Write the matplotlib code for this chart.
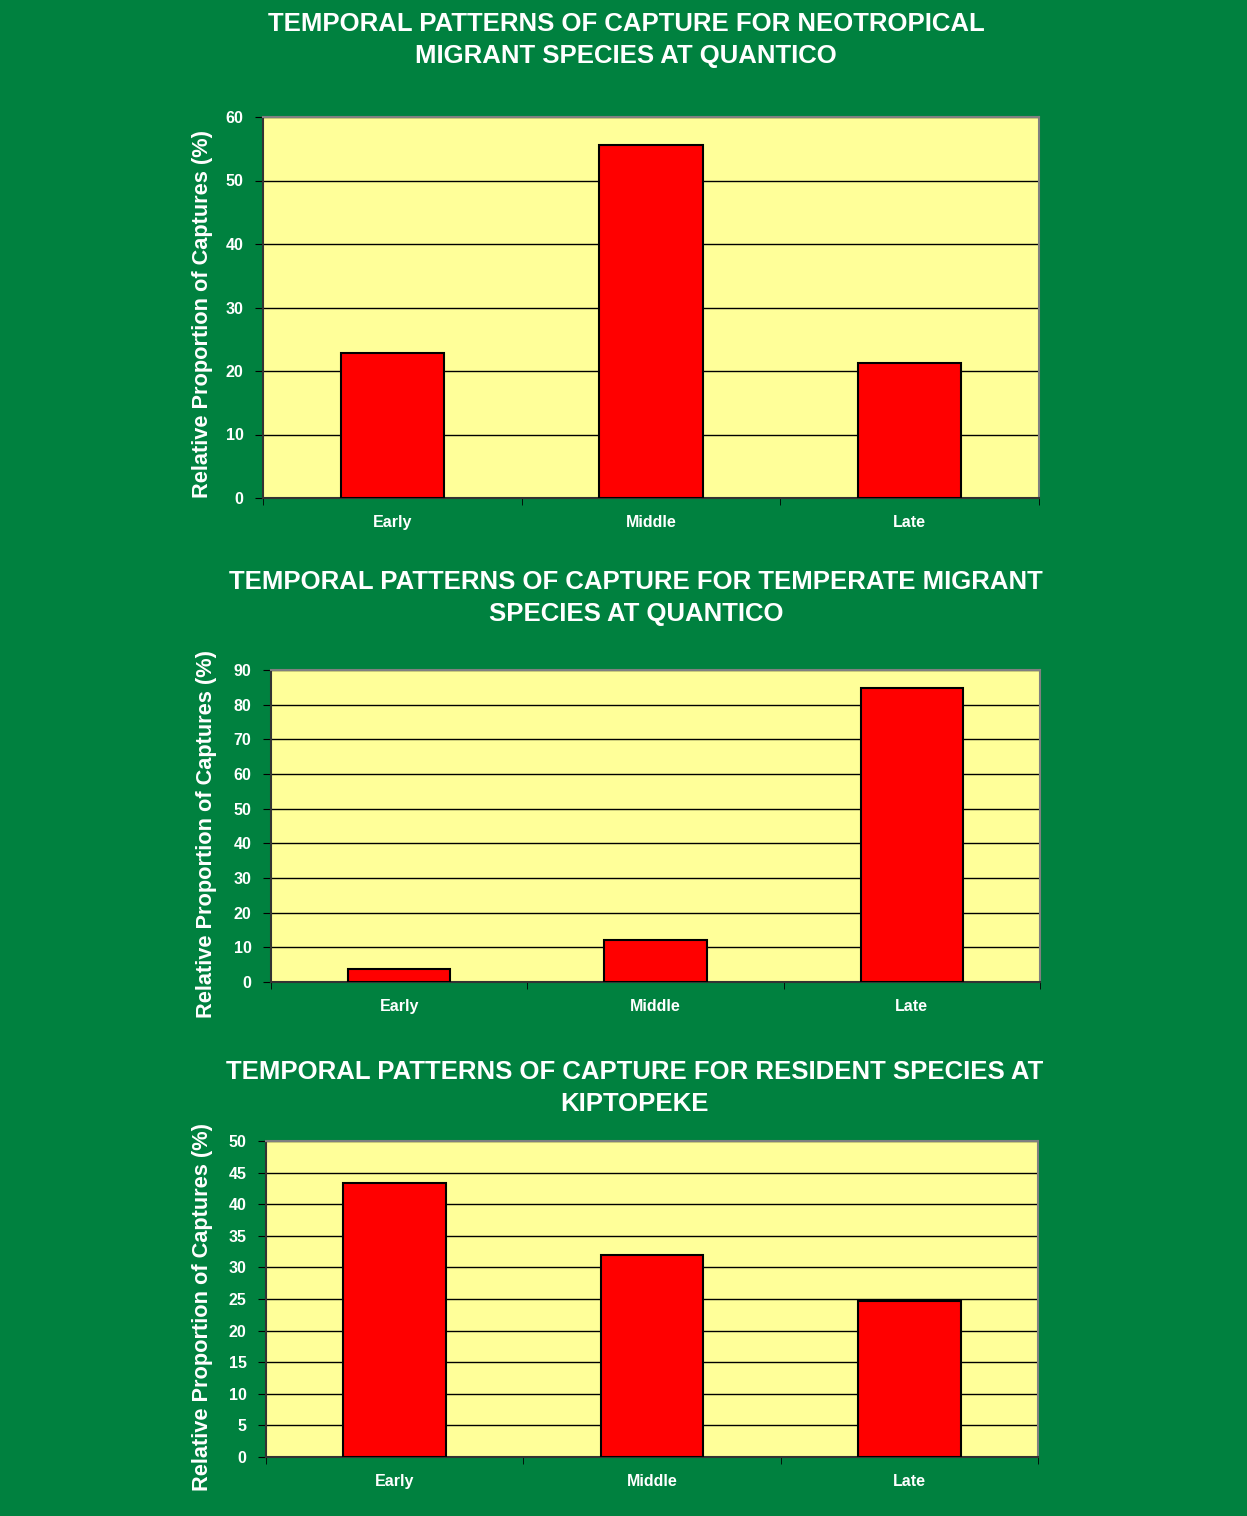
import numpy as np
import matplotlib.pyplot as plt

# capture periods and percentages for each species group
periods = ["Early", "Middle", "Late"]
neotropical = [22.8, 55.6, 21.3]
temperate = [3.7, 12.1, 84.8]
resident = [43.4, 32.0, 24.7]

titles = [
    "TEMPORAL PATTERNS OF CAPTURE FOR NEOTROPICAL\nMIGRANT SPECIES AT QUANTICO",
    "TEMPORAL PATTERNS OF CAPTURE FOR TEMPERATE MIGRANT\nSPECIES AT QUANTICO",
    "TEMPORAL PATTERNS OF CAPTURE FOR RESIDENT SPECIES AT\nKIPTOPEKE",
]
y_max = [60, 90, 50]
y_step = [10, 10, 5]

GREEN = "#00813f"
YELLOW = "#ffff99"
RED = "#ff0000"

plt.rcParams["font.family"] = ["Liberation Sans", "DejaVu Sans"]

W, H = 1247, 1516
fig = plt.figure(figsize=(W / 100, H / 100), dpi=100, facecolor=GREEN)

# plot-area boxes in pixels: left, right, top, bottom
boxes = [(263, 1039, 117, 498), (271, 1040, 670, 982), (266, 1038, 1141, 1457)]
title_y = [40, 598, 1088]
title_x = [626, 636, 635]
label_x = [213, 217, 213]
label_shift = [6, 8, 8]
series = [neotropical, temperate, resident]

for i in range(3):
    l, r, t, b = boxes[i]
    ax = fig.add_axes([l / W, 1 - b / H, (r - l) / W, (b - t) / H])
    ax.set_facecolor(YELLOW)
    x = np.arange(len(periods))
    ax.bar(x, series[i], width=0.4, color=RED, edgecolor="black",
           linewidth=1.5, zorder=3)
    ax.set_xlim(-0.5, 2.5)
    ax.set_ylim(0, y_max[i])
    ax.set_yticks(np.arange(0, y_max[i] + 1, y_step[i]))
    ax.yaxis.grid(True, color="black", linewidth=1.0, zorder=1)
    ax.set_axisbelow(True)

    ax.set_xticks(x)
    ax.set_xticklabels(periods)
    ax.set_xticks([-0.5, 0.5, 1.5, 2.5], minor=True)
    ax.tick_params(axis="x", which="major", length=0, pad=12,
                   labelsize=11.5, labelcolor="white")
    ax.tick_params(axis="x", which="minor", length=5, color="black",
                   direction="out")
    ax.tick_params(axis="y", length=6, color="black", direction="out",
                   pad=8, labelsize=11.5, labelcolor="white")
    for lab in ax.get_xticklabels() + ax.get_yticklabels():
        lab.set_fontweight("bold")

    ax.spines["left"].set_color("#333333")
    ax.spines["bottom"].set_color("#333333")
    ax.spines["top"].set_color("#808080")
    ax.spines["right"].set_color("#808080")
    for s in ax.spines.values():
        s.set_linewidth(1.5)

    ax.set_ylabel("Relative Proportion of Captures (%)", color="white",
                  fontsize=15.7, fontweight="bold")
    ax.yaxis.set_label_coords((label_x[i] - l) / (r - l),
                              0.5 - label_shift[i] / (b - t))

    fig.text(title_x[i] / W, 1 - title_y[i] / H, titles[i], color="white",
             fontsize=18.5, fontweight="bold", ha="center", va="center",
             linespacing=1.45)

fig.savefig("out.png", dpi=100, facecolor=GREEN)
